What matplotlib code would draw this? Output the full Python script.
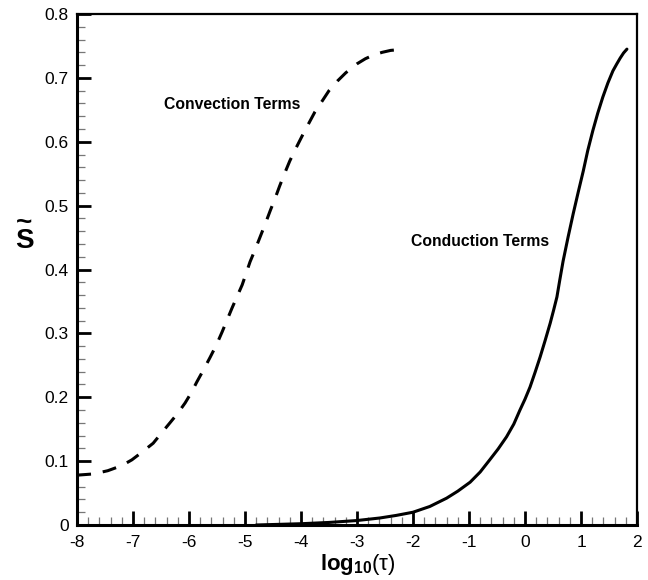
import matplotlib
matplotlib.use("Agg")
import matplotlib.pyplot as plt
from matplotlib.ticker import MultipleLocator

plt.rcParams['font.family'] = ['Liberation Sans', 'DejaVu Sans']
plt.rcParams['mathtext.fontset'] = 'custom'
plt.rcParams['mathtext.rm'] = 'Liberation Sans'
plt.rcParams['mathtext.bf'] = 'Liberation Sans:bold'
plt.rcParams['mathtext.it'] = 'Liberation Sans:italic'

# Data
conv_x = [-8.0, -7.7, -7.45, -7.2, -7.02, -6.84, -6.64, -6.5, -6.34, -6.2,
          -6.07, -5.96, -5.86, -5.74, -5.62, -5.51, -5.41, -5.32, -5.23, -5.14,
          -5.05, -4.91, -4.82, -4.73, -4.64, -4.55, -4.46, -4.38, -4.29, -4.20,
          -4.09, -3.98, -3.86, -3.75, -3.62, -3.5, -3.35, -3.2, -3.0, -2.85,
          -2.7, -2.55, -2.4, -2.28, -2.16]
conv_y = [0.078, 0.080, 0.085, 0.093, 0.102, 0.114, 0.128, 0.143, 0.160, 0.175,
          0.191, 0.207, 0.224, 0.243, 0.263, 0.282, 0.302, 0.321, 0.340, 0.358,
          0.376, 0.412, 0.431, 0.451, 0.471, 0.492, 0.512, 0.531, 0.551, 0.570,
          0.590, 0.609, 0.629, 0.647, 0.664, 0.680, 0.695, 0.708, 0.722, 0.730,
          0.736, 0.740, 0.743, 0.744, 0.745]

cond_x = [-4.8, -4.4, -4.0, -3.5, -3.0, -2.59, -2.3, -2.0, -1.7, -1.40,
          -1.2, -0.98, -0.8, -0.63, -0.48, -0.33, -0.2, -0.09, 0.0, 0.09,
          0.18, 0.27, 0.36, 0.45, 0.51, 0.57, 0.62, 0.68, 0.77, 0.86,
          0.95, 1.04, 1.12, 1.21, 1.30, 1.39, 1.48, 1.57, 1.64, 1.70,
          1.76, 1.82]
cond_y = [0.0, 0.001, 0.002, 0.004, 0.007, 0.011, 0.015, 0.020, 0.029, 0.042,
          0.053, 0.067, 0.083, 0.102, 0.119, 0.138, 0.158, 0.180, 0.197, 0.216,
          0.239, 0.263, 0.289, 0.316, 0.336, 0.357, 0.383, 0.413, 0.451, 0.487,
          0.521, 0.554, 0.586, 0.617, 0.645, 0.670, 0.692, 0.711, 0.722, 0.731,
          0.739, 0.745]

x_ticks = [-8, -7, -6, -5, -4, -3, -2, -1, 0, 1, 2]
y_ticks = [0, 0.1, 0.2, 0.3, 0.4, 0.5, 0.6, 0.7, 0.8]
y_ticklabels = ['0', '0.1', '0.2', '0.3', '0.4', '0.5', '0.6', '0.7', '0.8']

fig = plt.figure(figsize=(6.48, 5.8), dpi=100)
ax = fig.add_axes([77/648, 1-525/580, (637-77)/648, (525-14)/580])

ax.plot(conv_x, conv_y, color='black', lw=2.2, dashes=(4.6, 3.9))
ax.plot(cond_x, cond_y, color='black', lw=2.2, solid_capstyle='round',
        solid_joinstyle='round')

ax.set_xlim(-8, 2)
ax.set_ylim(0, 0.8)
ax.set_xticks(x_ticks)
ax.set_xticklabels([str(v) for v in x_ticks])
ax.set_yticks(y_ticks)
ax.set_yticklabels(y_ticklabels)
ax.xaxis.set_minor_locator(MultipleLocator(0.2))
ax.yaxis.set_minor_locator(MultipleLocator(0.02))

ax.tick_params(which='major', direction='in', length=10, width=2.0,
               labelsize=12.5, color='black', top=False, right=False)
ax.tick_params(axis='x', which='major', pad=7)
ax.tick_params(axis='y', which='major', pad=6)
ax.tick_params(which='minor', direction='in', length=5.5, width=0.9,
               color='#777777', top=False, right=False)

for side in ['left', 'bottom']:
    ax.spines[side].set_linewidth(2.2)
for side in ['top', 'right']:
    ax.spines[side].set_linewidth(1.6)

ax.text(-6.45, 0.659, 'Convection Terms', fontsize=11.3, fontweight='bold',
        ha='left', va='center')
ax.text(-2.04, 0.444, 'Conduction Terms', fontsize=11.3, fontweight='bold',
        ha='left', va='center')

fig.text(358/648, 1-570/580, r'$\mathbf{log_{10}}(\mathrm{\tau})$', fontsize=16,
         ha='center', va='baseline')
fig.text(24/648, 1-232/580, '~\nS', fontsize=20, fontweight='bold',
         ha='center', va='center', linespacing=0.62, multialignment='center')

fig.savefig('out.png', dpi=100)
